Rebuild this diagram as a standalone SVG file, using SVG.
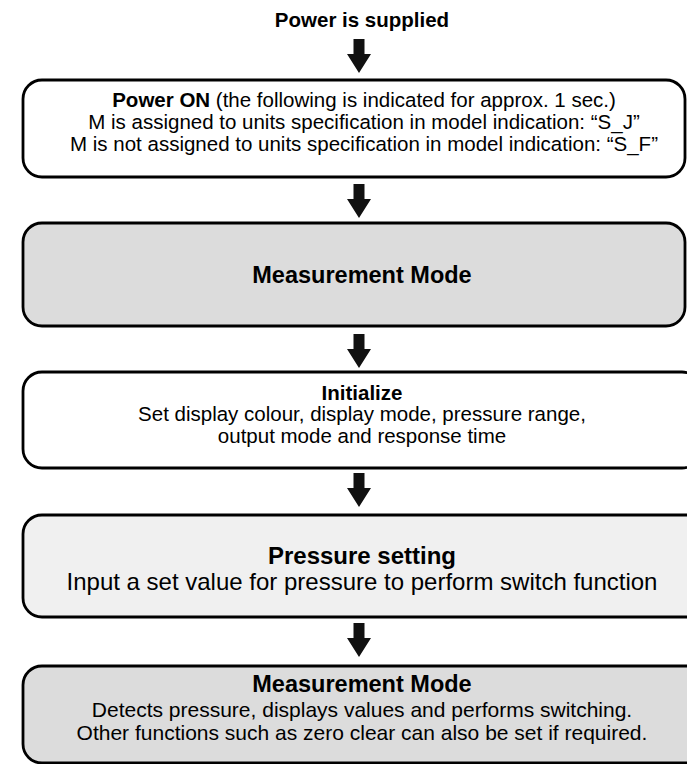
<svg xmlns="http://www.w3.org/2000/svg" width="687" height="764" viewBox="0 0 687 764">
<style>
text{font-family:"Liberation Sans",Arial,sans-serif;fill:#000;text-anchor:middle}
.b{font-weight:bold}
.box{stroke:#000;stroke-width:2.8}
.w{fill:#fff}.g{fill:#dcdcdc}.l{fill:#f0f0f0}
.arr{fill:#111}
</style>
<defs>
<path id="arrow" d="M-5.5,0 H5.5 V15 H12 L0,34 L-12,15 H-5.5 Z"/>
</defs>
<rect width="687" height="764" fill="#fff"/>
<g id="start"><text class="b" x="362" y="27" font-size="20.5">Power is supplied</text></g>
<g id="connectors" class="arr">
<use href="#arrow" x="359" y="39"/>
<use href="#arrow" x="359" y="184"/>
<use href="#arrow" x="359" y="334"/>
<use href="#arrow" x="359" y="473"/>
<use href="#arrow" x="359" y="623"/>
</g>
<g id="power-on">
<rect class="box w" x="23" y="80" width="662" height="97" rx="19"/>
<text x="364" y="107" font-size="20.5"><tspan class="b">Power ON</tspan> (the following is indicated for approx. 1 sec.)</text>
<text x="364" y="129" font-size="20.5">M is assigned to units specification in model indication: “S_J”</text>
<text x="364" y="151" font-size="20.5">M is not assigned to units specification in model indication: “S_F”</text>
</g>
<g id="measurement-mode-1">
<rect class="box g" x="23" y="223" width="662" height="103" rx="19"/>
<text class="b" x="362" y="283" font-size="23.5">Measurement Mode</text>
</g>
<g id="initialize">
<rect class="box w" x="23" y="372" width="678" height="96" rx="19"/>
<text class="b" x="362" y="400" font-size="20.5">Initialize</text>
<text x="362" y="421" font-size="20.5">Set display colour, display mode, pressure range,</text>
<text x="362" y="443" font-size="20.5">output mode and response time</text>
</g>
<g id="pressure-setting">
<rect class="box l" x="23" y="515" width="690" height="102" rx="19"/>
<text class="b" x="362" y="564" font-size="24">Pressure setting</text>
<text x="362" y="590" font-size="24">Input a set value for pressure to perform switch function</text>
</g>
<g id="measurement-mode-2">
<rect class="box g" x="23" y="666" width="690" height="97" rx="19"/>
<text class="b" x="362" y="692" font-size="23.5">Measurement Mode</text>
<text x="362" y="717" font-size="21">Detects pressure, displays values and performs switching.</text>
<text x="362" y="740" font-size="21">Other functions such as zero clear can also be set if required.</text>
</g>
</svg>
